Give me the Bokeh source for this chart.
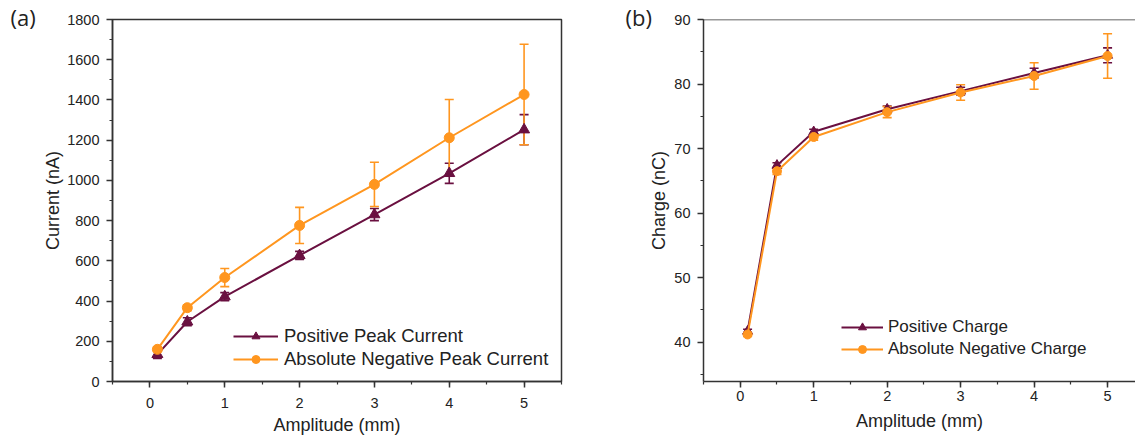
from bokeh.plotting import figure
from bokeh.models import (ColumnDataSource, Whisker, TeeHead, Legend, LegendItem,
                          Span, SingleIntervalTicker, Range1d, Title)
from bokeh.layouts import row
from bokeh.embed import file_html
from bokeh.resources import INLINE

# ---------------- data ----------------
amp = [0.1, 0.5, 1, 2, 3, 4, 5]

pos_current = [135, 297, 422, 627, 830, 1035, 1252]
pos_current_err = [20, 20, 20, 20, 30, 50, 75]
neg_current = [160, 367, 517, 776, 980, 1212, 1427]
neg_current_err = [12, 15, 45, 90, 110, 190, 250]

pos_charge = [41.7, 67.4, 72.6, 76.1, 78.9, 81.7, 84.45]
pos_charge_err = [0.3, 0.4, 0.4, 0.5, 0.6, 0.75, 1.15]
neg_charge = [41.2, 66.5, 71.8, 75.65, 78.7, 81.25, 84.35]
neg_charge_err = [0.3, 0.5, 0.5, 0.85, 1.2, 2.05, 3.45]

x_label = "Amplitude (mm)"

PURPLE = "#6a1040"
ORANGE = "#ff961f"
FONT = "Liberation Sans"
AXC = "#333333"


def style(p, ytick, ylab_standoff, xtick_standoff):
    for ax in (p.xaxis[0], p.yaxis[0]):
        ax.axis_line_color = AXC
        ax.axis_line_width = 1.5
        ax.major_tick_line_color = AXC
        ax.minor_tick_line_color = AXC
        ax.major_tick_line_width = 1.5
        ax.minor_tick_line_width = 1.2
        ax.major_tick_in = 0
        ax.major_tick_out = 6
        ax.minor_tick_in = 0
        ax.minor_tick_out = 3
        ax.major_label_text_font = FONT
        ax.major_label_text_font_size = "14.5px"
        ax.major_label_text_color = "#222222"
        ax.axis_label_text_font = FONT
        ax.axis_label_text_font_size = "18px"
        ax.axis_label_text_font_style = "normal"
        ax.axis_label_text_color = "#222222"
    p.xaxis.ticker = SingleIntervalTicker(interval=1, num_minor_ticks=2)
    p.yaxis.ticker = SingleIntervalTicker(interval=ytick, num_minor_ticks=2)
    p.xaxis.major_label_standoff = xtick_standoff
    p.yaxis.major_label_standoff = 7
    p.yaxis.axis_label_standoff = ylab_standoff
    p.grid.visible = False
    p.background_fill_color = "white"
    p.border_fill_color = "white"


def add_series(p, src_y, src_err, color, marker, msize, name):
    src = ColumnDataSource(dict(
        x=amp, y=src_y,
        lo=[v - e for v, e in zip(src_y, src_err)],
        hi=[v + e for v, e in zip(src_y, src_err)],
    ))
    ln = p.line("x", "y", source=src, line_color=color, line_width=2)
    w = Whisker(source=src, base="x", lower="lo", upper="hi",
                line_color=color, line_width=1.6,
                upper_head=TeeHead(size=9, line_color=color, line_width=1.6),
                lower_head=TeeHead(size=9, line_color=color, line_width=1.6))
    p.add_layout(w)
    mk = p.scatter("x", "y", source=src, marker=marker, size=msize,
                   fill_color=color, line_color=color)
    return LegendItem(label=name, renderers=[ln, mk])


def panel_title(text, offset):
    return Title(text=text, align="left", vertical_align="bottom", offset=offset,
                 standoff=-24, text_font="Open Sans", text_font_size="22px",
                 text_font_style="normal", text_color="#222222")


def bottom_label(text, standoff):
    return Title(text=text, align="center", vertical_align="bottom", standoff=standoff,
                 text_font=FONT, text_font_size="18px", text_font_style="normal",
                 text_color="#222222")


# ---------------- panel (a) ----------------
pa = figure(width=600, height=440, output_backend="svg", toolbar_location=None,
            x_range=Range1d(-0.5, 5.5), y_range=Range1d(0, 1800),
            min_border_left=112, min_border_right=39, min_border_top=19,
            min_border_bottom=59)
pa.title = panel_title("(a)", -102)
pa.yaxis.axis_label = "Current (nA)"
style(pa, 200, 1, 10)
pa.add_layout(bottom_label(x_label, 4), "below")
pa.outline_line_color = AXC
pa.outline_line_width = 1.5

ia1 = add_series(pa, pos_current, pos_current_err, PURPLE, "triangle", 11, "Positive Peak Current")
ia2 = add_series(pa, neg_current, neg_current_err, ORANGE, "circle", 10, "Absolute Negative Peak Current")
leg_a = Legend(items=[ia1, ia2], location=(121, 11), padding=0, margin=0, spacing=1,
               label_height=20, glyph_height=20, glyph_width=45, label_standoff=6,
               label_text_font=FONT, label_text_font_size="18.5px",
               label_text_color="#222222", border_line_color=None,
               background_fill_alpha=0)
pa.add_layout(leg_a, "center")

# ---------------- panel (b) ----------------
pb = figure(width=535, height=440, output_backend="svg", toolbar_location=None,
            x_range=Range1d(-0.5, 5.38), y_range=Range1d(33.915, 90),
            min_border_left=103, min_border_right=0, min_border_top=19,
            min_border_bottom=59)
pb.title = panel_title("(b)", -78)
pb.yaxis.axis_label = "Charge (nC)"
style(pb, 10, 2, 3)
pb.add_layout(bottom_label(x_label, 10), "below")
pb.outline_line_color = None
pb.add_layout(Span(location=90, dimension="width", line_color=AXC, line_width=1.5))

ib1 = add_series(pb, pos_charge, pos_charge_err, PURPLE, "triangle", 10, "Positive Charge")
ib2 = add_series(pb, neg_charge, neg_charge_err, ORANGE, "circle", 9, "Absolute Negative Charge")
leg_b = Legend(items=[ib1, ib2], location=(138, 22), padding=0, margin=0, spacing=2,
               label_height=20, glyph_height=20, glyph_width=42, label_standoff=5,
               label_text_font=FONT, label_text_font_size="17px",
               label_text_color="#222222", border_line_color=None,
               background_fill_color="white")
pb.add_layout(leg_b, "center")

layout = row(pa, pb)
open("out.html", "w").write(file_html(layout, INLINE))
